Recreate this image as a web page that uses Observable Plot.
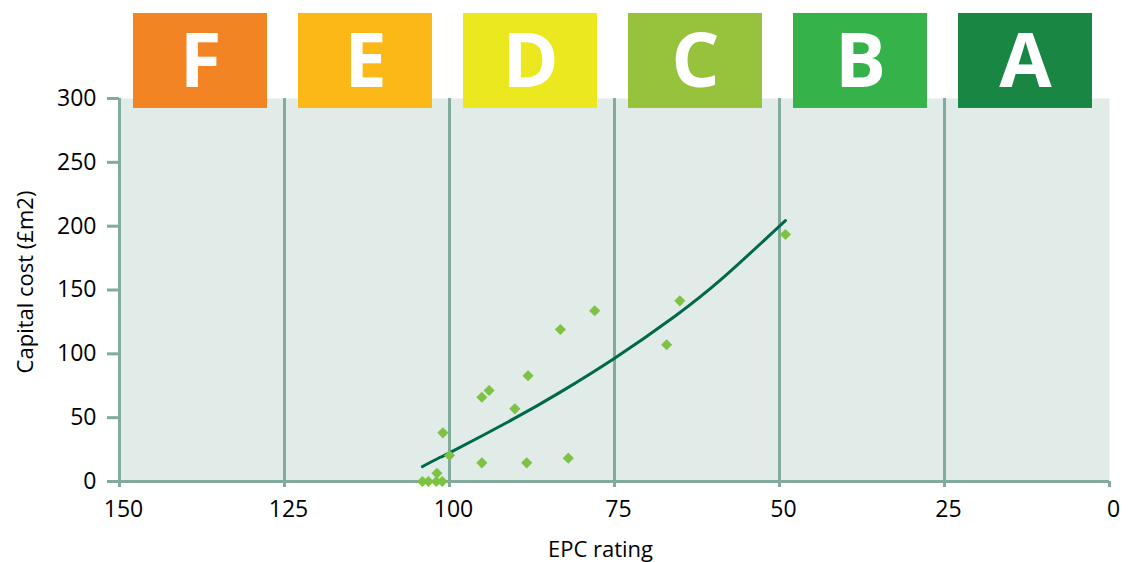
<!DOCTYPE html>
<html>
<head>
<meta charset="utf-8">
<script src="https://cdn.jsdelivr.net/npm/d3@7"></script>
<script src="https://cdn.jsdelivr.net/npm/@observablehq/plot@0.6"></script>
<style>
  html, body { margin: 0; padding: 0; background: #fff; }
</style>
</head>
<body>
<div id="chart"></div>
<script>
// EPC rating of each scheme (x) and capital cost in £m2 (y)
const epcRating   = [104.1, 103.2, 102.0, 101.1, 101.9, 101.0, 100.0, 95.1, 94.0, 90.1, 88.1, 95.1, 88.3, 82.0, 83.2, 78.0, 65.1, 67.1, 49.1];
const capitalCost = [0, 0, 0, 0, 6.5, 38.1, 20.4, 66.0, 71.3, 56.9, 82.8, 14.6, 14.6, 18.3, 119.1, 133.7, 141.5, 107.1, 193.5];

// Trend line
const trendRating = [104.1, 101.4, 99.8, 90.3, 83.2, 75.1, 66.0, 58.4, 49.1];
const trendCost   = [11.7, 19.0, 23.0, 49.0, 70.0, 96.2, 128.9, 160.3, 204.4];

// EPC bands
const bandLetters = ["F", "E", "D", "C", "B", "A"];
const bandStarts  = [150, 125, 100, 75, 50, 25];
const bandColors  = ["#f38424", "#fbb817", "#ece81f", "#97c33c", "#35b24a", "#198743"];

// Axis ticks
const xTicks = [150, 125, 100, 75, 50, 25, 0];
const yTicks = [0, 50, 100, 150, 200, 250, 300];
const gridValues = [150, 125, 100, 75, 50, 25];

const points = epcRating.map((x, i) => ({x, y: capitalCost[i]}));
const trend = trendRating.map((x, i) => ({x, y: trendCost[i]}));
const bands = bandLetters.map((letter, i) => ({letter, start: bandStarts[i], color: bandColors[i]}));

const gridColor = "#82ab9b";
const font = "'Open Sans', 'Noto Sans', sans-serif";

const chart = Plot.plot({
  width: 1128,
  height: 562,
  marginLeft: 119,
  marginRight: 19,
  marginTop: 98,
  marginBottom: 81,
  style: {fontFamily: font, fontSize: "22px", color: "#000", background: "#fff", overflow: "visible"},
  x: {domain: [150, 0]},
  y: {domain: [0, 300]},
  color: {type: "identity"},
  marks: [
    Plot.frame({fill: "#e1ebe8", stroke: "none"}),
    Plot.ruleX(gridValues, {stroke: gridColor, strokeWidth: 3}),
    Plot.ruleY([0], {stroke: gridColor, strokeWidth: 3}),
    Plot.axisY({ticks: yTicks, tickSize: 12, tickPadding: 11, stroke: gridColor, fill: "#000", strokeWidth: 3, label: null, fontSize: 23}),
    Plot.axisX({ticks: xTicks, tickSize: 6, tickFormat: () => "", stroke: gridColor, strokeWidth: 3, label: null}),
    Plot.axisX({ticks: xTicks, tickSize: 0, tickPadding: 19, fill: "#000", dx: 4, label: null, fontSize: 23}),
    Plot.line(trend, {x: "x", y: "y", curve: "natural", stroke: "#00694b", strokeWidth: 3}),
    Plot.dot(points, {x: "x", y: "y", symbol: "diamond2", r: 5, fill: "#7dc242", stroke: "none"}),
    Plot.rect(bands, {x1: "start", x2: d => d.start - 25, y1: () => 292.2, y2: () => 366.6, fill: "color", insetLeft: 14, insetRight: 17}),
    Plot.text(bands, {x: d => d.start - 12.5, y: () => 330.5, text: "letter", fill: "#fff", fontSize: 76, fontWeight: "bold", fontFamily: font, dx: -1.5, dy: 3, lineAnchor: "middle"}),
    Plot.text(["EPC rating"], {frameAnchor: "bottom", dy: 68, dx: -14, fontSize: 22, lineAnchor: "middle", textAnchor: "middle", fill: "#000"}),
    Plot.text(["Capital cost (£m2)"], {frameAnchor: "left", rotate: -90, dx: -94, dy: -8, fontSize: 22, lineAnchor: "middle", textAnchor: "middle", fill: "#000"})
  ]
});
document.getElementById("chart").appendChild(chart);
</script>
</body>
</html>
